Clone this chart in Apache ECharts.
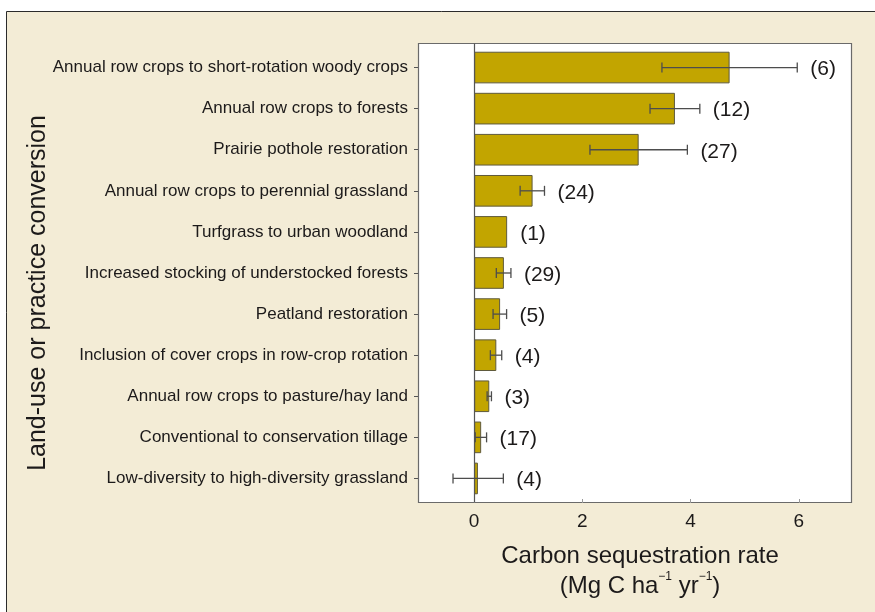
<!DOCTYPE html>
<html><head><meta charset="utf-8">
<script src="https://cdn.jsdelivr.net/npm/echarts@6/dist/echarts.min.js"></script>
<style>html,body{margin:0;padding:0;background:#fff}#c{width:875px;height:612px}</style>
</head><body><div id="c"></div>
<script>
const categories = [
  'Annual row crops to short-rotation woody crops',
  'Annual row crops to forests',
  'Prairie pothole restoration',
  'Annual row crops to perennial grassland',
  'Turfgrass to urban woodland',
  'Increased stocking of understocked forests',
  'Peatland restoration',
  'Inclusion of cover crops in row-crop rotation',
  'Annual row crops to pasture/hay land',
  'Conventional to conservation tillage',
  'Low-diversity to high-diversity grassland'
];
const rates   = [4.72, 3.71, 3.04, 1.08, 0.61, 0.55, 0.48, 0.41, 0.28, 0.13, 0.07];
const errLow  = [3.47, 3.25, 2.14, 0.85, null, 0.41, 0.35, 0.30, 0.24, 0.02, -0.39];
const errHigh = [5.97, 4.17, 3.94, 1.30, null, 0.68, 0.60, 0.51, 0.32, 0.23, 0.54];
const studies = [6, 12, 27, 24, 1, 29, 5, 4, 3, 17, 4];
const xTicks  = [0, 2, 4, 6];

const FONT = "'Liberation Sans', Arial, Helvetica, sans-serif";
const INK = '#1c1a1a';
const chart = echarts.init(document.getElementById('c'), null, {renderer: 'canvas'});

const option = {
  animation: false,
  backgroundColor: '#ffffff',
  grid: {left: 420, right: 22, top: 47, bottom: 113, containLabel: false},
  xAxis: {
    type: 'value', min: -1, max: 7, interval: 1, offset: 4,
    axisLine: {show: false, onZero: false},
    splitLine: {show: false},
    axisTick: {show: true, inside: true, length: 4, customValues: xTicks, lineStyle: {color: '#9a9a9a', width: 1}},
    axisLabel: {customValues: xTicks, fontSize: 19, color: INK, margin: 9, fontFamily: FONT}
  },
  yAxis: {
    type: 'category', data: categories, inverse: true, offset: 2,
    axisLine: {show: false, onZero: false},
    axisTick: {show: true, alignWithLabel: true, length: 4, lineStyle: {color: '#555', width: 1}},
    axisLabel: {interval: 0, fontSize: 17, color: INK, margin: 10, fontFamily: FONT}
  },
  series: [
    {
      type: 'bar', data: rates, barWidth: '77%', z: 2,
      itemStyle: {color: '#c2a500', borderColor: '#5f5a3c', borderWidth: 1}
    },
    {
      type: 'custom', z: 4,
      data: rates.map((v, i) => [v, i]),
      encode: {x: 0, y: 1},
      renderItem: function (params, api) {
        const i = params.dataIndex;
        const children = [];
        const barEnd = api.coord([rates[i], i]);
        let rightX = barEnd[0];
        if (errLow[i] != null && errHigh[i] != null) {
          const a = api.coord([errLow[i], i]);
          const b = api.coord([errHigh[i], i]);
          const st = {stroke: '#4d4d4d', lineWidth: 1.3};
          children.push({type: 'line', shape: {x1: a[0], y1: a[1], x2: b[0], y2: b[1]}, style: st});
          children.push({type: 'line', shape: {x1: a[0], y1: a[1] - 5, x2: a[0], y2: a[1] + 5}, style: st});
          children.push({type: 'line', shape: {x1: b[0], y1: b[1] - 5, x2: b[0], y2: b[1] + 5}, style: st});
          rightX = Math.max(rightX, b[0]);
        }
        children.push({
          type: 'text', x: rightX + 13, y: barEnd[1] + 2,
          style: {text: '(' + studies[i] + ')', font: '21px ' + FONT, fill: INK, align: 'left', verticalAlign: 'middle'}
        });
        return {type: 'group', children: children};
      }
    }
  ]
};
chart.setOption(option);

const x0 = chart.convertToPixel({xAxisIndex: 0}, 0);
chart.setOption({
  graphic: [
    {type: 'rect', z: -20, silent: true, shape: {x: 6.5, y: 11.5, width: 900, height: 700},
     style: {fill: '#f3ecd6', stroke: '#2b2b2b', lineWidth: 1}},
    {type: 'rect', z: -10, silent: true, shape: {x: 418.5, y: 43.5, width: 433, height: 459},
     style: {fill: '#ffffff', stroke: '#6a6a6a', lineWidth: 1.2}},
    {type: 'line', z: 3, silent: true, shape: {x1: Math.round(x0) + 0.5, y1: 43.5, x2: Math.round(x0) + 0.5, y2: 502.5},
     style: {stroke: '#555', lineWidth: 1.2}},
    {type: 'text', z: 10, x: 38, y: 293, rotation: Math.PI / 2,
     style: {text: 'Land-use or practice conversion', font: '25px ' + FONT, fill: INK, align: 'center', verticalAlign: 'middle'}},
    {type: 'text', z: 10, x: 640, y: 571,
     style: {
       text: '{a|Carbon sequestration rate}\n{a|(Mg C ha}{s|\u22121}{a| yr}{s|\u22121}{a|)}',
       align: 'center', verticalAlign: 'middle',
       rich: {
         a: {fontSize: 24, lineHeight: 30, fontFamily: FONT, fill: INK},
         s: {fontSize: 12, lineHeight: 14, fontFamily: FONT, fill: INK, verticalAlign: 'top'}
       }
     }}
  ]
});
</script>
</body></html>
